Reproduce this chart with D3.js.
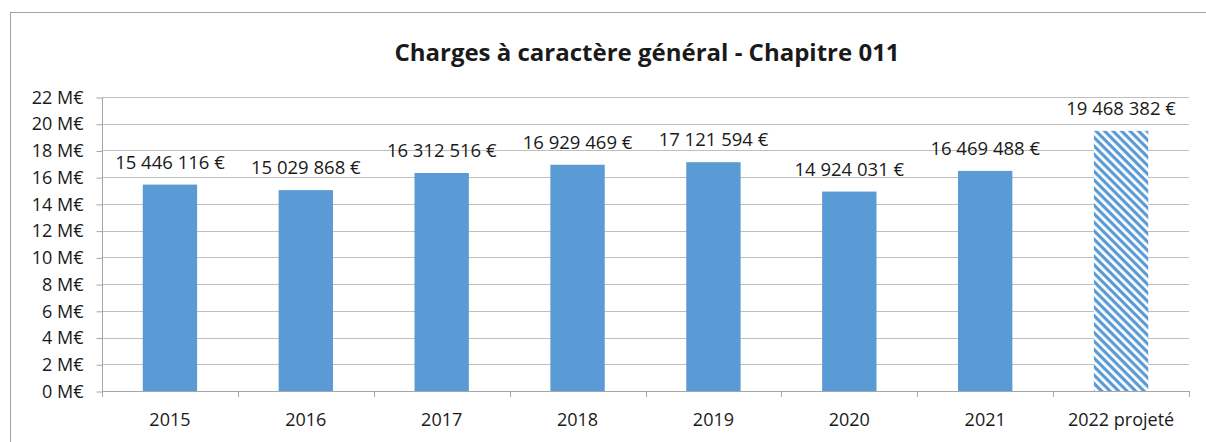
<!DOCTYPE html>
<html lang="fr">
<head>
  <meta charset="UTF-8">
  <title>Charges à caractère général - Chapitre 011</title>
  <script src="https://d3js.org/d3.v7.min.js"></script>
  <style>
    body { margin: 0; background: #fff; }
    svg { display: block; font-family: "Open Sans", Arial, sans-serif; }
  </style>
</head>
<body>
<div id="chart"></div>
<script>
  // data
  const categories = ["2015", "2016", "2017", "2018", "2019", "2020", "2021", "2022 projeté"];
  const values = [15446116, 15029868, 16312516, 16929469, 17121594, 14924031, 16469488, 19468382];
  const projected = [false, false, false, false, false, false, false, true];
  const yTicks = [0, 2, 4, 6, 8, 10, 12, 14, 16, 18, 20, 22];

  const width = 1206, height = 442;
  const margin = { top: 97, right: 17, bottom: 51, left: 102 };
  const blue = "#5B9BD5";

  const svg = d3.select("#chart").append("svg")
    .attr("width", width).attr("height", height);

  const defs = svg.append("defs");
  const pat = defs.append("pattern")
    .attr("id", "hatch")
    .attr("patternUnits", "userSpaceOnUse")
    .attr("width", 6).attr("height", 6)
    .attr("patternTransform", "rotate(45)");
  pat.append("rect").attr("width", 6).attr("height", 6).attr("fill", "#fff");
  pat.append("rect").attr("width", 6).attr("height", 3.2).attr("fill", blue);

  // chart border
  svg.append("rect")
    .attr("x", 10.5).attr("y", 12.5)
    .attr("width", 1210).attr("height", 450)
    .attr("fill", "none").attr("stroke", "#a0a0a0").attr("stroke-width", 1);

  svg.append("text")
    .attr("x", 647).attr("y", 61)
    .attr("text-anchor", "middle")
    .attr("font-size", 24).attr("font-weight", "bold")
    .attr("fill", "#1a1a1a")
    .text("Charges à caractère général - Chapitre 011");

  const x = d3.scaleBand()
    .domain(categories)
    .range([margin.left, width - margin.right])
    .paddingInner(0.6).paddingOuter(0.3);

  const y = d3.scaleLinear()
    .domain([0, 22])
    .range([height - margin.bottom, margin.top]);

  // gridlines
  svg.append("g")
    .selectAll("line")
    .data(yTicks.slice(1))
    .join("line")
    .attr("x1", margin.left).attr("x2", width - margin.right)
    .attr("y1", d => Math.round(y(d)) + 0.5).attr("y2", d => Math.round(y(d)) + 0.5)
    .attr("stroke", "#bfbfbf").attr("stroke-width", 1);

  // y axis
  const yAxis = svg.append("g")
    .attr("transform", `translate(${margin.left + 0.5},0.5)`)
    .call(d3.axisLeft(y).tickValues(yTicks).tickSize(6).tickPadding(13)
      .tickFormat(d => d + " M€"));
  yAxis.selectAll("line, path").attr("stroke", "#a6a6a6");
  yAxis.select(".domain").attr("d", `M0,${y(22)}V${y(0)}`);
  yAxis.selectAll("text").attr("font-size", 18).attr("fill", "#1a1a1a")
    .attr("font-family", "Open Sans, Arial, sans-serif");

  // x axis with boundary ticks
  const step = x.step();
  const x0 = margin.left, x1 = width - margin.right;
  const xAxis = svg.append("g");
  xAxis.append("line")
    .attr("x1", x0).attr("x2", x1)
    .attr("y1", Math.round(y(0)) + 0.5).attr("y2", Math.round(y(0)) + 0.5)
    .attr("stroke", "#a6a6a6");
  xAxis.selectAll(".bt")
    .data(d3.range(categories.length + 1))
    .join("line")
    .attr("x1", i => Math.round(x0 + i * step) + 0.5)
    .attr("x2", i => Math.round(x0 + i * step) + 0.5)
    .attr("y1", Math.round(y(0))).attr("y2", Math.round(y(0)) + 6)
    .attr("stroke", "#a6a6a6");
  xAxis.selectAll("text")
    .data(categories)
    .join("text")
    .attr("x", d => x(d) + x.bandwidth() / 2)
    .attr("y", y(0) + 35)
    .attr("text-anchor", "middle")
    .attr("font-size", 18).attr("fill", "#1a1a1a")
    .text(d => d);

  // bars
  svg.append("g")
    .selectAll("rect")
    .data(values)
    .join("rect")
    .attr("x", (d, i) => x(categories[i]))
    .attr("width", x.bandwidth())
    .attr("y", d => y(d / 1e6))
    .attr("height", d => y(0) - y(d / 1e6))
    .attr("fill", (d, i) => projected[i] ? "url(#hatch)" : blue);

  // value labels
  const fmt = v => d3.format(",")(v).replace(/,/g, " ") + " €";
  svg.append("g")
    .selectAll("text")
    .data(values)
    .join("text")
    .attr("x", (d, i) => x(categories[i]) + x.bandwidth() / 2)
    .attr("y", d => y(d / 1e6) - 16)
    .attr("text-anchor", "middle")
    .attr("font-size", 18.5).attr("fill", "#1a1a1a")
    .text(fmt);
</script>
</body>
</html>
